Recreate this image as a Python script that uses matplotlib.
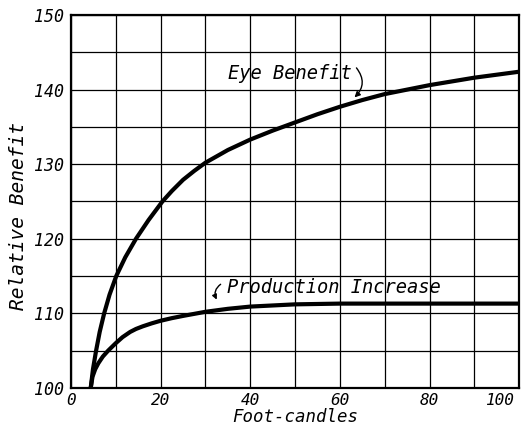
import matplotlib
matplotlib.use("Agg")
from matplotlib import pyplot as plt
from matplotlib.transforms import ScaledTranslation

# values
eye_x = [4.4, 4.9, 5.6, 6.4, 7.4, 8.6, 10.1, 12.1, 14.5, 17.3, 20.4, 22.5, 25.0, 27.5, 30.0, 35.0, 40.0, 45.0,
         50.0, 55.0, 60.0, 65.0, 70.0, 75.0, 80.0, 90.0, 100.0]
eye_y = [100.0, 102.5, 105.0, 107.5, 110.0, 112.5, 115.0, 117.5, 120.0, 122.5, 125.0, 126.4, 127.9, 129.1, 130.2,
         131.9, 133.3, 134.5, 135.6, 136.7, 137.7, 138.6, 139.4, 140.0, 140.6, 141.6, 142.4]

prod_x = [4.4, 4.8, 5.4, 6.1, 7.1, 8.3, 10.0, 11.5, 13.2, 14.5, 16.0, 18.0, 20.0, 22.5, 25.0, 30.0, 35.0, 40.0,
          50.0, 60.0, 80.0, 100.0]
prod_y = [100.0, 101.5, 102.5, 103.3, 104.2, 105.0, 106.0, 106.8, 107.5, 107.9, 108.25, 108.65, 109.0, 109.35,
          109.65, 110.2, 110.6, 110.9, 111.2, 111.3, 111.3, 111.3]

x_ticks = [0, 20, 40, 60, 80, 100]
y_ticks = [100, 110, 120, 130, 140, 150]

# hand lettering is close to a slanted monospace
font = dict(family="DejaVu Sans Mono", style="italic")

fig = plt.figure(figsize=(5.26, 4.30), dpi=100)
ax = fig.add_axes([0.135, 0.098, 0.852, 0.867])

ax.plot(eye_x, eye_y, color="black", lw=3.0, solid_capstyle="butt", solid_joinstyle="round")
ax.plot(prod_x, prod_y, color="black", lw=3.0, solid_capstyle="butt", solid_joinstyle="round")

ax.set_xlim(0, 100)
ax.set_ylim(100, 150)

# grid every 10 foot-candles and every 5 benefit units
ax.set_xticks(range(0, 101, 10), minor=True)
ax.set_yticks(range(100, 151, 5), minor=True)
ax.grid(True, which="both", color="black", lw=0.9)
ax.tick_params(which="both", length=0)

ax.set_xticks(x_ticks)
ax.set_xticklabels([str(t) for t in x_ticks], fontsize=11.5, **font)
ax.set_yticks(y_ticks)
ax.set_yticklabels([str(t) for t in y_ticks], fontsize=12, **font)
ax.tick_params(axis="x", pad=4)
ax.tick_params(axis="y", pad=5)
# the hand-lettered "100" sits left of its grid line
last = ax.get_xticklabels()[-1]
last.set_transform(last.get_transform() + ScaledTranslation(-0.2, 0, fig.dpi_scale_trans))

for s in ax.spines.values():
    s.set_linewidth(1.6)

ax.set_xlabel("Foot-candles", fontsize=12.5, labelpad=0, **font)
ax.set_ylabel("Relative Benefit", fontsize=14, **font)
ax.yaxis.set_label_coords(-0.095, 0.46)

ax.text(35, 142.2, "Eye Benefit", fontsize=13.5, va="center", ha="left", **font)
ax.annotate("", xy=(62.8, 138.7), xytext=(63.3, 143.2),
            arrowprops=dict(arrowstyle="-|>", color="black", lw=1.0,
                            mutation_scale=8, connectionstyle="arc3,rad=-0.5"))

ax.text(34.8, 113.4, "Production Increase", fontsize=13.5, va="center", ha="left", **font)
ax.annotate("", xy=(32.8, 111.5), xytext=(33.9, 114.1),
            arrowprops=dict(arrowstyle="-|>", color="black", lw=1.0,
                            mutation_scale=7, connectionstyle="arc3,rad=0.5"))

fig.savefig("out.png", dpi=100)
